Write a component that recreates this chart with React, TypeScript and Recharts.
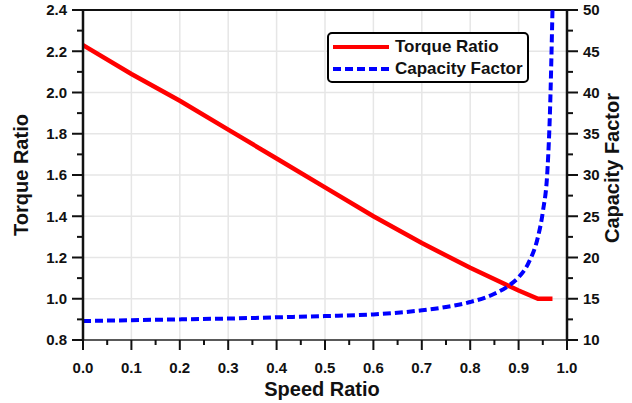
import { LineChart, Line, XAxis, YAxis, ReferenceLine, Legend } from "recharts";

const speedTorque = [0, 0.1, 0.2, 0.3, 0.4, 0.5, 0.6, 0.7, 0.8, 0.9, 0.94, 0.97];
const torqueRatio = [2.23, 2.09, 1.96, 1.82, 1.68, 1.54, 1.4, 1.27, 1.15, 1.04, 1.0, 1.0];

const speedCapacity = [0, 0.1, 0.2, 0.3, 0.4, 0.5, 0.6, 0.7, 0.75, 0.8, 0.85, 0.88, 0.9, 0.92, 0.94, 0.95, 0.96, 0.965, 0.97];
const capacityFactor = [12.3, 12.4, 12.5, 12.6, 12.75, 12.9, 13.1, 13.6, 14.0, 14.6, 15.6, 16.6, 17.6, 19.3, 22.5, 25.5, 31, 38, 50];

const speedTicks = [0, 0.05, 0.1, 0.15, 0.2, 0.25, 0.3, 0.35, 0.4, 0.45, 0.5, 0.55, 0.6, 0.65, 0.7, 0.75, 0.8, 0.85, 0.9, 0.95, 1.0];
const torqueTicks = [0.8, 0.9, 1.0, 1.1, 1.2, 1.3, 1.4, 1.5, 1.6, 1.7, 1.8, 1.9, 2.0, 2.1, 2.2, 2.3, 2.4];
const capacityTicks = [10, 12.5, 15, 17.5, 20, 22.5, 25, 27.5, 30, 32.5, 35, 37.5, 40, 42.5, 45, 47.5, 50];

const gridSpeed = [0.1, 0.2, 0.3, 0.4, 0.5, 0.6, 0.7, 0.8, 0.9];
const gridTorque = [1.0, 1.2, 1.4, 1.6, 1.8, 2.0, 2.2];

// merge both series onto one x table
const xs = Array.from(new Set([...speedTorque, ...speedCapacity])).sort((a, b) => a - b);
const rows = xs.map((x) => {
  const ti = speedTorque.indexOf(x);
  const ci = speedCapacity.indexOf(x);
  return {
    speed: x,
    torque: ti >= 0 ? torqueRatio[ti] : null,
    capacity: ci >= 0 ? capacityFactor[ci] : null,
  };
});

const FONT = "'Liberation Sans', Arial, Helvetica, sans-serif";
const INK = "#111";

function XTick(props: any) {
  const { x, y, payload } = props;
  const v = payload.value;
  const major = Math.round(v * 100) % 10 === 0;
  return (
    <g>
      <line x1={x} x2={x} y1={y} y2={y + (major ? 10 : 5)} stroke={INK} strokeWidth={2} />
      {major && (
        <text x={x} y={y + 33} textAnchor="middle" fontSize={15} fontWeight="bold" fontFamily={FONT} fill={INK}>
          {v.toFixed(1)}
        </text>
      )}
    </g>
  );
}

function LeftTick(props: any) {
  const { x, y, payload } = props;
  const v = payload.value;
  const major = Math.round(v * 10) % 2 === 0;
  return (
    <g>
      <line x1={x} x2={x - (major ? 11 : 6)} y1={y} y2={y} stroke={INK} strokeWidth={2} />
      {major && (
        <text x={x - 16} y={y} dy="0.36em" textAnchor="end" fontSize={15} fontWeight="bold" fontFamily={FONT} fill={INK}>
          {v.toFixed(1)}
        </text>
      )}
    </g>
  );
}

function RightTick(props: any) {
  const { x, y, payload } = props;
  const v = payload.value;
  const major = v % 5 === 0;
  return (
    <g>
      <line x1={x} x2={x + (major ? 11 : 6)} y1={y} y2={y} stroke={INK} strokeWidth={2} />
      {major && (
        <text x={x + 16} y={y} dy="0.36em" textAnchor="start" fontSize={15} fontWeight="bold" fontFamily={FONT} fill={INK}>
          {v}
        </text>
      )}
    </g>
  );
}

function LegendBox() {
  const item = { display: "flex", alignItems: "center", height: 22 };
  const txt = { fontFamily: FONT, fontWeight: "bold" as const, fontSize: 17, color: INK, marginLeft: 6 };
  return (
    <div
      style={{
        width: 202,
        height: 51,
        boxSizing: "border-box",
        border: "2px solid #000",
        borderRadius: 5,
        background: "#fff",
        padding: "2px 4px",
      }}
    >
      <div style={item}>
        <svg width={56} height={8}>
          <line x1={0} x2={56} y1={4} y2={4} stroke="#ff0000" strokeWidth={4} />
        </svg>
        <span style={txt}>Torque Ratio</span>
      </div>
      <div style={item}>
        <svg width={56} height={8}>
          <line x1={0} x2={56} y1={4} y2={4} stroke="#0000ff" strokeWidth={4} strokeDasharray="8 4" />
        </svg>
        <span style={txt}>Capacity Factor</span>
      </div>
    </div>
  );
}

export default function App() {
  return (
    <div style={{ position: "absolute", left: 0, top: 0, width: 632, height: 403, background: "#fff" }}>
      <LineChart width={632} height={403} data={rows} margin={{ top: 10, right: 0, bottom: 0, left: 0 }}>
        {gridSpeed.map((v) => (
          <ReferenceLine key={"gx" + v} x={v} yAxisId="left" stroke="#e6e6e6" strokeWidth={1.5} />
        ))}
        {gridTorque.map((v) => (
          <ReferenceLine key={"gy" + v} y={v} yAxisId="left" stroke="#e6e6e6" strokeWidth={1.5} />
        ))}
        <ReferenceLine y={2.4} yAxisId="left" stroke={INK} strokeWidth={2} />
        <XAxis
          dataKey="speed"
          type="number"
          domain={[0, 1]}
          ticks={speedTicks}
          interval={0}
          height={63}
          tickSize={0}
          tickMargin={0}
          tickLine={false}
          tick={<XTick />}
          axisLine={{ stroke: "#222", strokeWidth: 1.5 }}
          label={{
            content: () => (
              <text x={322} y={396} textAnchor="middle" fontSize={20} fontWeight="bold" fontFamily={FONT} fill={INK}>
                Speed Ratio
              </text>
            ),
          }}
        />
        <YAxis
          yAxisId="left"
          type="number"
          domain={[0.8, 2.4]}
          ticks={torqueTicks}
          interval={0}
          width={83}
          tickSize={0}
          tickMargin={0}
          tickLine={false}
          tick={<LeftTick />}
          axisLine={{ stroke: INK, strokeWidth: 2.5 }}
          label={{
            content: () => (
              <text
                x={21}
                y={175}
                transform="rotate(-90 21 175)"
                dy="0.36em"
                textAnchor="middle"
                fontSize={20}
                fontWeight="bold"
                fontFamily={FONT}
                fill={INK}
              >
                Torque Ratio
              </text>
            ),
          }}
        />
        <YAxis
          yAxisId="right"
          orientation="right"
          type="number"
          domain={[10, 50]}
          ticks={capacityTicks}
          interval={0}
          width={65}
          tickSize={0}
          tickMargin={0}
          tickLine={false}
          tick={<RightTick />}
          axisLine={{ stroke: INK, strokeWidth: 2.5 }}
          label={{
            content: () => (
              <text
                x={612}
                y={168}
                transform="rotate(-90 612 168)"
                dy="0.36em"
                textAnchor="middle"
                fontSize={20}
                fontWeight="bold"
                fontFamily={FONT}
                fill={INK}
              >
                Capacity Factor
              </text>
            ),
          }}
        />
        <Line
          yAxisId="left"
          dataKey="torque"
          type="linear"
          stroke="#ff0000"
          strokeWidth={4.5}
          dot={false}
          connectNulls
          isAnimationActive={false}
        />
        <Line
          yAxisId="right"
          dataKey="capacity"
          type="monotone"
          stroke="#0000ff"
          strokeWidth={4}
          strokeDasharray="8 4"
          dot={false}
          connectNulls
          isAnimationActive={false}
        />
        <Legend
          layout="vertical"
          align="center"
          verticalAlign="middle"
          content={() => <LegendBox />}
          wrapperStyle={{ left: 327, top: 32, width: 202, height: 51 }}
        />
      </LineChart>
    </div>
  );
}
